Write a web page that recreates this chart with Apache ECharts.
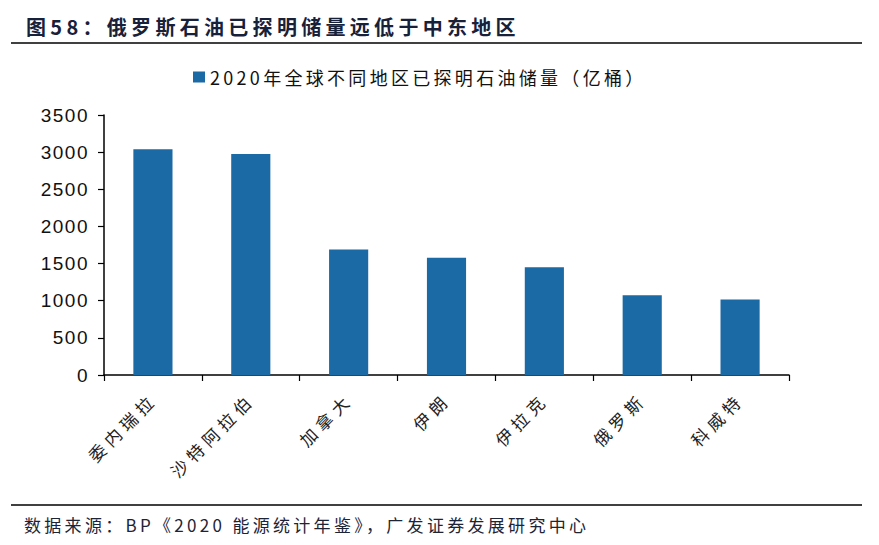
<!DOCTYPE html>
<html><head><meta charset="utf-8">
<script src="https://cdn.jsdelivr.net/npm/echarts@6/dist/echarts.min.js"></script>
<style>html,body{margin:0;padding:0;background:#fff}#c{width:879px;height:545px}</style>
</head><body><div id="c"></div>
<script>
const categories = ['委内瑞拉','沙特阿拉伯','加拿大','伊朗','伊拉克','俄罗斯','科威特'];
const values = [3038, 2975, 1691, 1579, 1450, 1072, 1015];
const seriesName = '2020年全球不同地区已探明石油储量（亿桶）';
const yTicks = {min: 0, max: 3500, interval: 500};
const titleText = '图58：俄罗斯石油已探明储量远低于中东地区';
const sourceText = '数据来源：BP《2020 能源统计年鉴》，广发证券发展研究中心';

const chart = echarts.init(document.getElementById('c'), null, {renderer: 'svg'});
chart.setOption({
  animation: false,
  backgroundColor: '#fff',
  legend: {
    data: [seriesName], top: 68, left: 193, padding: 0, itemWidth: 12, itemHeight: 11, itemGap: 4,
    icon: 'rect',
    textStyle: {fontSize: 18, color: '#111', fontFamily: '"Noto Sans CJK SC", "Liberation Sans"'}
  },
  grid: {left: 104, right: 90, top: 115, bottom: 170},
  xAxis: {
    type: 'category', data: categories,
    axisLine: {lineStyle: {color: '#000', width: 1.5}},
    axisTick: {show: true, length: 6, lineStyle: {color: '#000', width: 1.2}},
    axisLabel: {rotate: 45, fontSize: 17, color: '#222', margin: 21, interval: 0, fontFamily: '"Noto Sans CJK SC"'}
  },
  yAxis: {
    type: 'value', min: yTicks.min, max: yTicks.max, interval: yTicks.interval,
    axisLine: {show: true, lineStyle: {color: '#000', width: 1.5}},
    axisTick: {show: true, length: 6, lineStyle: {color: '#000', width: 1.2}},
    splitLine: {show: false},
    axisLabel: {fontSize: 19, color: '#111', margin: 15, fontFamily: '"Liberation Sans"', formatter: v => String(v)}
  },
  series: [{
    name: seriesName, type: 'bar', data: values, barWidth: '40%',
    itemStyle: {color: '#1b6aa5'}
  }],
  graphic: [
    {type: 'text', x: 26, y: 26, style: {text: titleText, font: 'bold 20px "Noto Sans CJK SC", sans-serif', fill: '#18213a', verticalAlign: 'middle'}},
    {type: 'line', shape: {x1: 11, y1: 43, x2: 862, y2: 43}, style: {stroke: '#000', lineWidth: 1.3}},
    {type: 'line', shape: {x1: 11, y1: 505, x2: 862, y2: 505}, style: {stroke: '#000', lineWidth: 1.3}},
    {type: 'text', x: 24, y: 524, style: {text: sourceText, font: '17px "Noto Sans CJK SC", "Liberation Sans", sans-serif', fill: '#1d2436', verticalAlign: 'middle'}}
  ]
});

function applySpacing() {
  document.querySelectorAll('#c text').forEach(t => {
    const s = t.textContent;
    let ls = null;
    if (s === titleText) ls = 4.3;
    else if (s === sourceText) ls = 3.3;
    else if (s === seriesName) ls = 3.3;
    else if (categories.indexOf(s) >= 0) ls = 5;
    else if (/^\d+$/.test(s)) ls = 1.5;
    if (ls !== null) t.style.letterSpacing = ls + 'px';
  });
}
applySpacing();
chart.on('finished', applySpacing);
requestAnimationFrame(applySpacing);
</script></body></html>
